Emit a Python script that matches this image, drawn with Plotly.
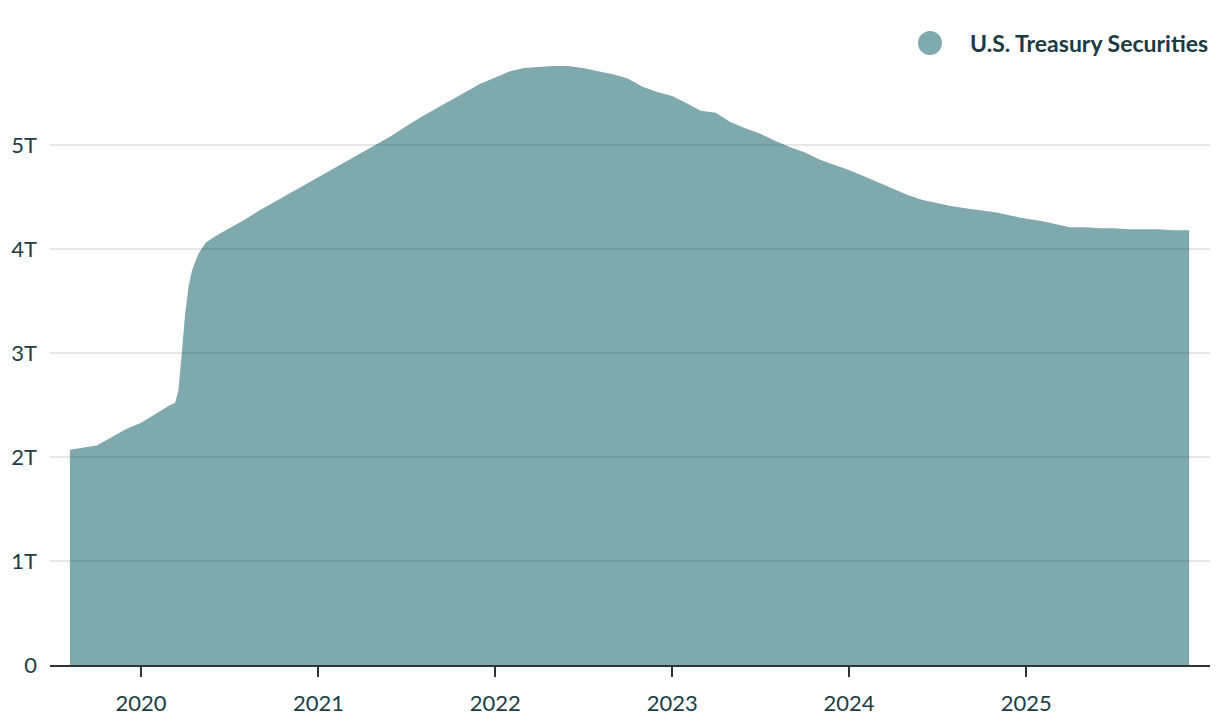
import plotly.graph_objects as go

series_name = "U.S. Treasury Securities"

dates = [
    "2019-08-07", "2019-09-01", "2019-10-01", "2019-11-01", "2019-12-01",
    "2020-01-01", "2020-02-01", "2020-03-01", "2020-03-11", "2020-03-18",
    "2020-03-25", "2020-04-01", "2020-04-08", "2020-04-15", "2020-04-22",
    "2020-04-29", "2020-05-13", "2020-06-01", "2020-07-01", "2020-08-01",
    "2020-09-01", "2020-10-01", "2020-11-01", "2020-12-01",
    "2021-01-01", "2021-02-01", "2021-03-01", "2021-04-01", "2021-05-01", "2021-06-01",
    "2021-07-01", "2021-08-01", "2021-09-01", "2021-10-01", "2021-11-01", "2021-12-01",
    "2022-01-01", "2022-02-01", "2022-03-01", "2022-04-01", "2022-05-01", "2022-06-01",
    "2022-07-01", "2022-08-01", "2022-09-01", "2022-10-01", "2022-11-01", "2022-12-01",
    "2023-01-01", "2023-02-01", "2023-03-01", "2023-04-01", "2023-05-01", "2023-06-01",
    "2023-07-01", "2023-08-01", "2023-09-01", "2023-10-01", "2023-11-01", "2023-12-01",
    "2024-01-01", "2024-02-01", "2024-03-01", "2024-04-01", "2024-05-01", "2024-06-01",
    "2024-07-01", "2024-08-01", "2024-09-01", "2024-10-01", "2024-11-01", "2024-12-01",
    "2025-01-01", "2025-02-01", "2025-03-01", "2025-04-01", "2025-05-01", "2025-06-01",
    "2025-07-01", "2025-08-01", "2025-09-01", "2025-10-01", "2025-11-01", "2025-12-03",
]

# trillions of dollars
holdings_tn = [
    2.07, 2.09, 2.11, 2.19, 2.27,
    2.33, 2.42, 2.50, 2.52, 2.64,
    3.00, 3.38, 3.64, 3.79, 3.88,
    3.96, 4.06, 4.12, 4.20, 4.28,
    4.37, 4.45, 4.53, 4.61,
    4.69, 4.77, 4.85, 4.93, 5.01, 5.09,
    5.18, 5.27, 5.35, 5.43, 5.51, 5.59,
    5.65, 5.71, 5.74, 5.75, 5.76, 5.76,
    5.74, 5.71, 5.68, 5.64, 5.56, 5.51,
    5.47, 5.40, 5.33, 5.31, 5.22, 5.16,
    5.11, 5.04, 4.98, 4.93, 4.86, 4.81,
    4.76, 4.70, 4.64, 4.58, 4.52, 4.47,
    4.44, 4.41, 4.39, 4.37, 4.35, 4.32,
    4.29, 4.27, 4.24, 4.21, 4.21, 4.20,
    4.20, 4.19, 4.19, 4.19, 4.18, 4.18,
]

holdings = [v * 1e12 for v in holdings_tn]

y_tickvals = [0, 1e12, 2e12, 3e12, 4e12, 5e12]
y_ticktext = ["0", "1T", "2T", "3T", "4T", "5T"]
x_tickvals = ["2020-01-01", "2021-01-01", "2022-01-01", "2023-01-01", "2024-01-01", "2025-01-01"]
x_ticktext = ["2020", "2021", "2022", "2023", "2024", "2025"]

TEXT = "#1d3d45"
FONT = "Lato, 'Open Sans', sans-serif"

# page body has an 8px margin, so the figure is sized to fit the window
W, H = 1204, 712
L, R, T, B = 42, 2, 33, 55
PW, PH = W - L - R, H - T - B

fig = go.Figure()
fig.add_trace(go.Scatter(
    x=dates, y=holdings, mode="lines", fill="tozeroy",
    line=dict(width=0, color="rgba(0,84,90,0.5)"),
    fillcolor="rgba(0,84,90,0.5)",
    name=series_name, showlegend=False, hoverinfo="x+y",
))

# legend marker centre (fig px) and radius
cx, cy, rad = 922, 35, 12

fig.update_layout(
    width=W, height=H,
    margin=dict(l=L, r=R, t=T, b=B, autoexpand=False),
    paper_bgcolor="white", plot_bgcolor="white",
    font=dict(family=FONT, size=22, color=TEXT),
    showlegend=False,
    xaxis=dict(
        type="date", range=["2019-06-27", "2026-01-15"],
        tickvals=x_tickvals, ticktext=x_ticktext,
        ticks="outside", ticklen=10, tickwidth=2, tickcolor="#333333",
        showline=True, linecolor="#333333", linewidth=2,
        showgrid=False, zeroline=False, ticklabelstandoff=8,
        tickfont=dict(size=22, color=TEXT),
    ),
    yaxis=dict(
        range=[0, 6e12], tickvals=y_tickvals, ticktext=y_ticktext,
        showgrid=True, gridcolor="#e6e6e6", gridwidth=2,
        zeroline=False, showline=False, ticks="",
        ticklabelstandoff=12,
        tickfont=dict(size=22, color=TEXT),
    ),
    shapes=[dict(
        type="circle", xref="paper", yref="paper",
        x0=(cx - rad - L) / PW, x1=(cx + rad - L) / PW,
        y0=(H - B - (cy + rad)) / PH, y1=(H - B - (cy - rad)) / PH,
        fillcolor="#80aaad", line=dict(width=0),
    )],
    annotations=[dict(
        text="<b>" + series_name + "</b>", xref="paper", yref="paper",
        x=1.0, y=(H - B - cy) / PH, xanchor="right", yanchor="middle",
        showarrow=False, font=dict(size=23, color="#1b3a42", family=FONT),
    )],
)

fig.write_html("out.html")
